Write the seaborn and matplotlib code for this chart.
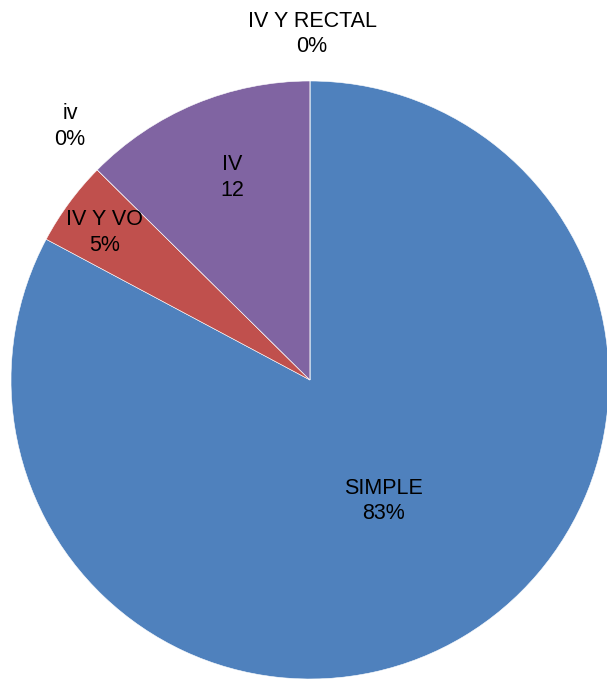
import matplotlib
matplotlib.use("Agg")
import matplotlib.pyplot as plt
import seaborn as sns

# Data
categories = ["SIMPLE", "IV Y VO", "iv", "IV", "IV Y RECTAL"]
values = [82.8, 4.6, 0.0, 12.6, 0.0]
value_labels = ["83%", "5%", "0%", "12", "0%"]
colors = ["#4F81BD", "#C0504D", "#9BBB59", "#8064A2", "#4BACC6"]

# label centres, in pie radius units
label_pos = [(0.247, -0.405), (-0.686, 0.492), (-0.803, 0.849), (-0.261, 0.676), (0.007, 1.157)]

sns.set_theme(style="white")
plt.rcParams["font.family"] = ["Liberation Sans", "DejaVu Sans"]

fig = plt.figure(figsize=(6.07, 6.80), dpi=100)
ax = fig.add_axes([0, 0, 1, 1])

ax.pie(values, colors=colors, startangle=90, counterclock=False, radius=1.0,
       wedgeprops=dict(edgecolor="white", linewidth=0.4))

for cat, lab, (x, y) in zip(categories, value_labels, label_pos):
    ax.text(x, y, f"{cat}\n{lab}", ha="center", va="center", multialignment="center",
            fontsize=15.5, color="black", linespacing=1.3)

ax.set_xlim(-310 / 299, 297 / 299)
ax.set_ylim(-300 / 299, 380 / 299)
ax.set_aspect("equal")
ax.axis("off")

fig.savefig("out.png", dpi=100, facecolor="white")
